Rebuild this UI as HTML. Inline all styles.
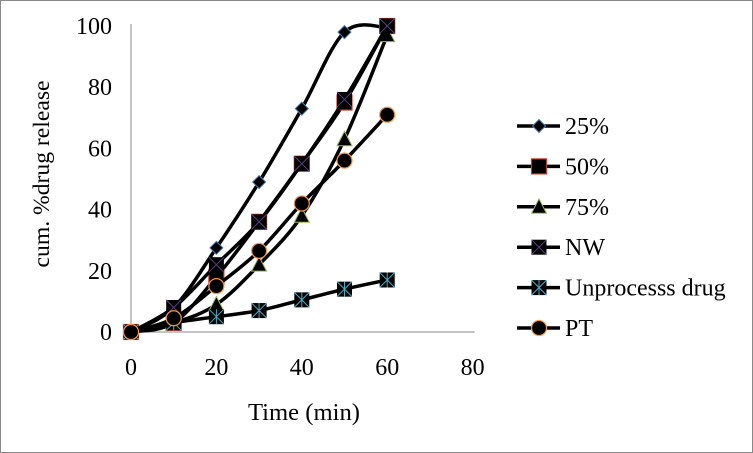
<!DOCTYPE html>
<html><head><meta charset="utf-8"><style>
body{margin:0;background:#fff;}
svg{display:block;font-family:"Liberation Serif",serif;}
</style></head><body>
<svg id="c" width="753" height="453">
<rect x="0.5" y="0.5" width="752" height="452" fill="#fff" stroke="#888"/>
<g id="axes"></g><g id="series"></g><g id="legend"></g>
<text x="304" y="420" font-size="24" text-anchor="middle" textLength="112" lengthAdjust="spacingAndGlyphs">Time (min)</text>
<text transform="translate(49,174) rotate(-90)" font-size="23" text-anchor="middle" textLength="187" lengthAdjust="spacingAndGlyphs">cum. %drug release</text>
</svg>
<script>
const times=[0,10,20,30,40,50,60];
const seriesNames=["25%","50%","75%","NW","Unprocesss drug","PT"];
const s25=[0,8,27.5,49,73,98,99.5];
const s50=[0,3,18,36,55,75,100];
const s75=[0,3,9,22,38,63,97];
const sNW=[0,8,22,36,55,76,100];
const sUn=[0,3,5,7,10.5,14,17];
const sPT=[0,4.5,15,26.5,42,56,71];
const xTicks=[0,20,40,60,80];
const yTicks=[0,20,40,60,80,100];
const NS="http://www.w3.org/2000/svg";
const X=v=>131+v*4.27, Y=v=>332-v*3.06;
function mk(t,a,p){const e=document.createElementNS(NS,t);for(const k in a)e.setAttribute(k,a[k]);p.appendChild(e);return e;}
const ax=document.getElementById('axes');
let e=mk('line',{x1:131,y1:Y(100)-2,x2:131,y2:332,stroke:'#888'},ax);

e=mk('line',{x1:131,y1:332,x2:X(80)+2,y2:332,stroke:'#888'},ax);

xTicks.forEach(t=>{const l=mk('text',{x:X(t),y:375,'font-size':24,'text-anchor':'middle'},ax);l.textContent=t;
});
yTicks.forEach(t=>{const l=mk('text',{x:112,y:Y(t)+8,'font-size':24,'text-anchor':'end'},ax);l.textContent=t;
});
const data=[s25,s50,s75,sNW,sUn,sPT];
const marks=['diamond','square','triangle','xsquare','starsquare','circle'];
const edge=['#4a7ab5','#c0392b','#9bbb59','#5b3f7f','#4bacc6','#f79646'];
function marker(g,type,cx,cy,c){
 if(type=='diamond')mk('polygon',{points:`${cx},${cy-6.5} ${cx+6.5},${cy} ${cx},${cy+6.5} ${cx-6.5},${cy}`,fill:'#000',stroke:c},g);
 else if(type=='square')mk('rect',{x:cx-7.5,y:cy-7.5,width:15,height:15,fill:'#000',stroke:c,'stroke-width':1.2},g);
 else if(type=='triangle')mk('polygon',{points:`${cx},${cy-8} ${cx+7.5},${cy+6.5} ${cx-7.5},${cy+6.5}`,fill:'#000',stroke:c},g);
 else if(type=='circle')mk('circle',{cx,cy,r:7.5,fill:'#000',stroke:c,'stroke-width':1.2},g);
 else{mk('rect',{x:cx-7.5,y:cy-7.5,width:15,height:15,fill:'#000'},g);
  mk('path',{d:`M${cx-7.5},${cy-7.5}L${cx+7.5},${cy+7.5}M${cx+7.5},${cy-7.5}L${cx-7.5},${cy+7.5}`+(type=='starsquare'?`M${cx},${cy-7.5}V${cy+7.5}`:''),stroke:c,'stroke-width':1},g);}
}
function smooth(p){let d=`M${p[0][0]},${p[0][1]}`;for(let i=0;i<p.length-1;i++){const p0=p[Math.max(i-1,0)],p1=p[i],p2=p[i+1],p3=p[Math.min(i+2,p.length-1)];
 const k=1/6;d+=`C${p1[0]+(p2[0]-p0[0])*k},${p1[1]+(p2[1]-p0[1])*k} ${p2[0]-(p3[0]-p1[0])*k},${p2[1]-(p3[1]-p1[1])*k} ${p2[0]},${p2[1]}`;}return d;}
const sg=document.getElementById('series'),lg=document.getElementById('legend');
data.forEach((vals,i)=>{const g=mk('g',{},sg);
 
 
 const pts=times.map((t,j)=>[X(t),Y(vals[j])]);
 mk('path',{d:smooth(pts),fill:'none',stroke:'#000','stroke-width':3.5},g);
 pts.forEach(p=>marker(g,marks[i],p[0],p[1],edge[i]));
 const ly=126+i*40.4;const lgI=mk('g',{},lg);
 
 
 mk('line',{x1:517,y1:ly,x2:560,y2:ly,stroke:'#000','stroke-width':3.5},lgI);
 marker(lgI,marks[i],539,ly,edge[i]);
 const t=mk('text',{x:565,y:ly+8,'font-size':24},lgI);t.textContent=seriesNames[i];
});
</script>
</body></html>
